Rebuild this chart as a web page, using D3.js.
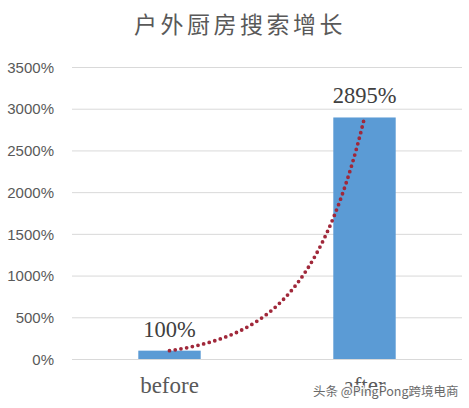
<!DOCTYPE html>
<html><head><meta charset="utf-8">
<script src="https://cdn.jsdelivr.net/npm/d3@7"></script>
<style>html,body{margin:0;padding:0;background:#fff;}</style>
</head><body>
<svg id="c" width="469" height="408"></svg>
<script>
const title = "户外厨房搜索增长";
const categories = ["before", "after"];
const values = [100, 2895];
const valueLabels = ["100%", "2895%"];
const yTicks = [0, 500, 1000, 1500, 2000, 2500, 3000, 3500];
const watermark = "头条 @PingPong跨境电商";

const svg = d3.select("#c");
const x = d3.scaleBand().domain(categories).range([72, 462]).paddingInner(0.68).paddingOuter(0.34);
const y = d3.scaleLinear().domain([0, 3500]).range([359, 67]);

svg.append("text").attr("x", 240).attr("y", 33).attr("text-anchor", "middle")
  .style("font-family", "'Noto Sans CJK SC'").style("font-size", "23px")
  .style("letter-spacing", "3.5px").attr("fill", "#595959").text(title);

// gridlines
svg.append("g").selectAll("line").data(yTicks).join("line")
  .attr("x1", 72).attr("x2", 462).attr("y1", d => y(d) + 0.5).attr("y2", d => y(d) + 0.5)
  .attr("stroke", "#D9D9D9").attr("stroke-width", 1);

// y axis labels
const yAxis = d3.axisLeft(y).tickValues(yTicks).tickFormat(d => d + "%").tickSize(0).tickPadding(0);
const ga = svg.append("g").attr("transform", "translate(54,0)").call(yAxis);
ga.select(".domain").remove();
ga.selectAll("text").style("font-family", "'Liberation Sans', Arial, sans-serif")
  .style("font-size", "15px").attr("fill", "#595959").attr("dy", "0.35em");

// bars
svg.append("g").selectAll("rect").data(categories).join("rect")
  .attr("x", d => x(d)).attr("width", x.bandwidth())
  .attr("y", (d, i) => y(values[i])).attr("height", (d, i) => y(0) - y(values[i]))
  .attr("fill", "#5B9BD5");

// value labels
svg.append("g").selectAll("text").data(categories).join("text")
  .attr("x", d => x(d) + x.bandwidth() / 2).attr("y", (d, i) => y(values[i]) - 14)
  .attr("text-anchor", "middle").style("font-family", "'Liberation Serif', 'Times New Roman', serif")
  .style("font-size", "22.5px").attr("fill", "#404040").text((d, i) => valueLabels[i]);

// category labels
svg.append("g").selectAll("text").data(categories).join("text")
  .attr("x", d => x(d) + x.bandwidth() / 2).attr("y", 393)
  .attr("text-anchor", "middle").style("font-family", "'Liberation Serif', 'Times New Roman', serif")
  .style("font-size", "23px").attr("fill", "#595959").text(d => d);

// exponential trendline fit (least squares on ln y)
const xs = values.map((v, i) => i + 1);
const ls = values.map(v => Math.log(v));
const mx = d3.mean(xs), ml = d3.mean(ls);
const b = d3.sum(xs, (xv, i) => (xv - mx) * (ls[i] - ml)) / d3.sum(xs, xv => (xv - mx) * (xv - mx));
const a = ml - b * mx;
const c0 = x(categories[0]) + x.bandwidth() / 2, c1 = x(categories[1]) + x.bandwidth() / 2;
const tx = d3.scaleLinear().domain([1, 2]).range([c0, c1]);
const pts = d3.range(0, 101).map(k => 1 + k / 100);
svg.append("path").datum(pts)
  .attr("d", d3.line().x(t => tx(t)).y(t => y(Math.exp(a + b * t))).curve(d3.curveLinear))
  .attr("fill", "none").attr("stroke", "#A0283A").attr("stroke-width", 3.8)
  .attr("stroke-linecap", "round").attr("stroke-dasharray", "0 5.8");

// watermark
svg.append("text").attr("x", 313).attr("y", 396)
  .style("font-family", "'Noto Sans CJK SC'").style("font-size", "12.5px")
  .attr("fill", "#5a5a5a").attr("stroke", "#fff").attr("stroke-width", 2.5)
  .style("paint-order", "stroke").attr("opacity", 0.9).text(watermark);
</script>
</body></html>
